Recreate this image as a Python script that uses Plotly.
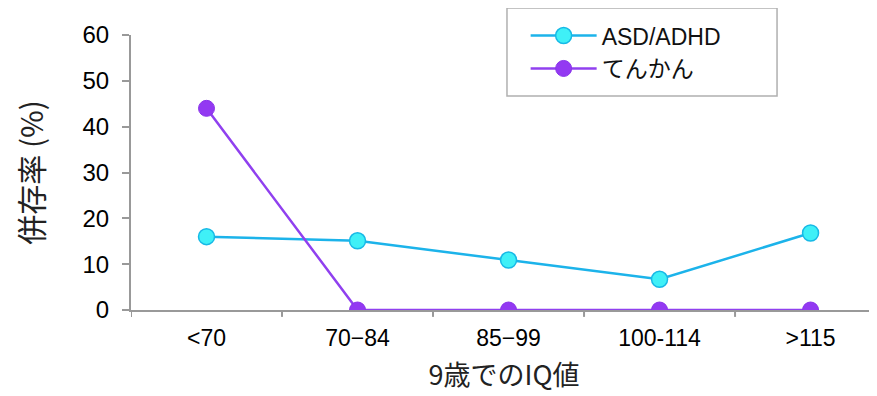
import plotly.graph_objects as go

categories = ["<70", "70\u221284", "85\u221299", "100-114", ">115"]
asd_adhd = [16, 15.1, 10.9, 6.7, 16.8]
epilepsy = [44, 0, 0, 0, 0]
y_ticks = [0, 10, 20, 30, 40, 50, 60]

FONT = "Liberation Sans, Arial, Noto Sans CJK JP, sans-serif"
JFONT = "Noto Sans CJK JP, Liberation Sans, sans-serif"
LFONT = "Liberation Sans, Noto Sans CJK JP, sans-serif"

x_idx = list(range(len(categories)))

fig = go.Figure()
fig.add_trace(go.Scatter(
    x=x_idx, y=asd_adhd, mode="lines+markers", name="ASD/ADHD",
    line=dict(color="#1cb3ea", width=2.5),
    marker=dict(size=16, color="#3ff0f7", line=dict(color="#17b9e6", width=1.5)),
))
fig.add_trace(go.Scatter(
    x=x_idx, y=epilepsy, mode="lines+markers", name="てんかん",
    line=dict(color="#9040ef", width=2.5),
    marker=dict(size=16, color="#9339f2", line=dict(color="#8a35ea", width=1)),
))

fig.update_layout(
    width=869, height=388,
    margin=dict(l=123, r=0, t=27, b=86),
    paper_bgcolor="white", plot_bgcolor="white",
    font=dict(family=FONT, size=23, color="#000"),
    showlegend=True,
    legend=dict(
        x=0.529, y=1.076, xanchor="left", yanchor="top",
        borderwidth=0, bgcolor="rgba(0,0,0,0)",
        font=dict(family=LFONT, size=23, color="#111"),
        itemwidth=66, tracegroupgap=0,
    ),
    xaxis=dict(
        range=[-0.5, 4.44],
        tickmode="array", tickvals=x_idx, ticktext=categories,
        showline=True, linecolor="#999999", linewidth=2,
        showgrid=False, zeroline=False, ticks="",
        ticklabelstandoff=6,
        tickfont=dict(family=FONT, size=23, color="#000"),
        title=dict(text="9歳でのIQ値", font=dict(family=JFONT, size=27, color="#222"), standoff=17),
    ),
    yaxis=dict(
        range=[0, 60],
        tickmode="array", tickvals=y_ticks,
        showline=True, linecolor="#999999", linewidth=2,
        showgrid=False, zeroline=False,
        ticks="outside", ticklen=7, tickcolor="#999999", tickwidth=2,
        ticklabelstandoff=8,
        tickfont=dict(family=FONT, size=24, color="#000"),
        title=dict(text="併存率 (%)", font=dict(family=JFONT, size=30, color="#222"), standoff=38),
    ),
)

# legend frame
fig.add_shape(type="rect", xref="paper", yref="paper",
              x0=0.504, x1=0.866, y0=0.778, y1=1.098,
              line=dict(color="#b0b0b0", width=1.5), fillcolor="rgba(0,0,0,0)", layer="below")

# boundary tick marks on x axis (between categories)
for b in [-0.5, 0.5, 1.5, 2.5, 3.5]:
    fig.add_shape(type="line", xref="x", yref="paper", x0=b, x1=b, y0=0, y1=-0.025,
                  line=dict(color="#999999", width=2))

fig.write_html("out.html")
